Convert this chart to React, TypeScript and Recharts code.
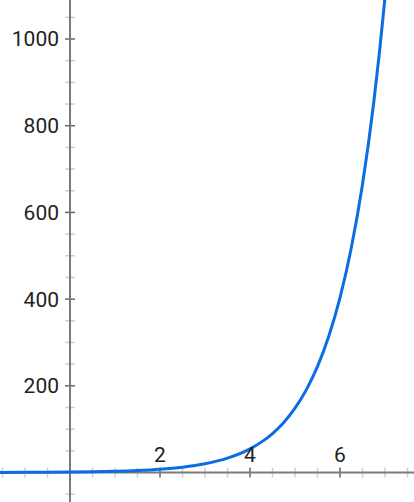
import { LineChart, Line, XAxis, YAxis, ReferenceLine, ReferenceDot } from 'recharts'

// values (it runs off the top just past x = 7)
const xs = [-1.6, -1.5, -1, -0.5, 0, 0.5, 1, 1.5, 2, 2.5, 3, 3.5, 4, 4.25, 4.5, 4.75, 5, 5.25, 5.5, 5.75, 6, 6.25, 6.5, 6.75, 7, 7.25]
const ys = [0.2, 0.22, 0.37, 0.61, 1, 1.65, 2.72, 4.48, 7.39, 12.2, 20.1, 33.1, 54.6, 70.1, 90, 115.6, 148.4, 190.6, 244.7, 314.2, 403.4, 518, 665.1, 854.1, 1096.6, 1408.1]

const xMajorTicks = [2, 4, 6]
const xMinorTicks = [-1.5, -1, -0.5, 0.5, 1, 1.5, 2.5, 3, 3.5, 4.5, 5, 5.5, 6.5, 7, 7.5]
const yMajorTicks = [200, 400, 600, 800, 1000]
const yMinorTicks = [-50, 50, 100, 150, 250, 300, 350, 450, 500, 550, 650, 700, 750, 850, 900, 950, 1050]

const X_DOMAIN: [number, number] = [-1.556, 7.644]
const Y_DOMAIN: [number, number] = [-68, 1090]

const W = 414
const H = 502
const TICK_PX = 5

const data = xs.map((x, i) => ({ x, y: ys[i] }))

// half tick length in data units
const tickDx = (TICK_PX * (X_DOMAIN[1] - X_DOMAIN[0])) / W
const tickDy = (TICK_PX * (Y_DOMAIN[1] - Y_DOMAIN[0])) / H

const AXIS = '#7a7a7a'
const MAJOR = '#666'
const MINOR = '#cfcfcf'
const labelStyle = { fill: '#222', fontSize: 21, fontFamily: 'Roboto, Arial, sans-serif' }

export default function App() {
  return (
    <div style={{ width: W, height: H }}>
      <style>{'body{margin:0}'}</style>
      <LineChart width={W} height={H} data={data} margin={{ top: 0, right: 0, bottom: 0, left: 0 }}>
        <XAxis dataKey="x" type="number" domain={X_DOMAIN} allowDataOverflow hide />
        <YAxis type="number" domain={Y_DOMAIN} allowDataOverflow hide />

        {xMinorTicks.map(t => (
          <ReferenceLine key={`xm${t}`} segment={[{ x: t, y: -tickDy }, { x: t, y: tickDy }]} stroke={MINOR} strokeWidth={1.5} />
        ))}
        {yMinorTicks.map(t => (
          <ReferenceLine key={`ym${t}`} segment={[{ x: -tickDx, y: t }, { x: tickDx, y: t }]} stroke={MINOR} strokeWidth={1.5} />
        ))}
        {xMajorTicks.map(t => (
          <ReferenceLine key={`xM${t}`} segment={[{ x: t, y: -tickDy }, { x: t, y: tickDy }]} stroke={MAJOR} strokeWidth={1.5} />
        ))}
        {yMajorTicks.map(t => (
          <ReferenceLine key={`yM${t}`} segment={[{ x: -tickDx, y: t }, { x: tickDx, y: t }]} stroke={MAJOR} strokeWidth={1.5} />
        ))}

        <ReferenceLine x={0} stroke={AXIS} strokeWidth={2} />
        <ReferenceLine y={0} stroke={AXIS} strokeWidth={2} />

        {xMajorTicks.map(t => (
          <ReferenceDot key={`xl${t}`} x={t} y={0} r={1} fill="none" stroke="none"
            label={{ value: String(t), position: 'top', offset: 10, ...labelStyle }} />
        ))}
        {yMajorTicks.map(t => (
          <ReferenceDot key={`yl${t}`} x={0} y={t} r={1} fill="none" stroke="none"
            label={{ value: String(t), position: 'left', offset: 10, ...labelStyle }} />
        ))}

        <Line type="monotone" dataKey="y" stroke="#0b6ce3" strokeWidth={3} dot={false} isAnimationActive={false} />
      </LineChart>
    </div>
  )
}
